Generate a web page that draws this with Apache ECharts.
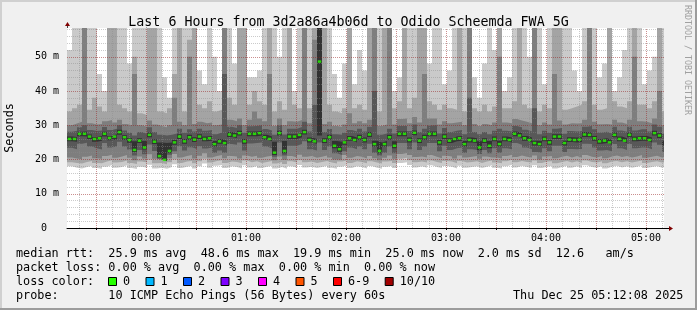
<!DOCTYPE html>
<html><head><meta charset="utf-8">
<script src="https://cdn.jsdelivr.net/npm/echarts@6/dist/echarts.min.js"></script>
<style>html,body{margin:0;padding:0;background:#f0f0f0;overflow:hidden}#c{width:697px;height:310px}</style>
</head><body><div id="c"></div>
<script>
// time in minutes relative to 00:00; each bin = 3 minutes
const startMin = -47.4, stepMin = 3, endMin = 310.8;
const yMax = 58.4;

const median = [
26.0,26.0,27.5,27.5,26.7,26.0,26.2,27.5,26.3,26.7,
28.0,26.5,25.7,22.8,25.5,23.5,27.2,25.2,21.0,19.9,
22.5,25.0,26.7,25.3,26.5,25.8,26.7,26.0,26.2,24.5,
25.3,24.8,27.3,27.0,27.7,25.3,27.5,27.5,27.7,26.5,
26.0,22.0,27.7,22.5,26.7,26.7,27.2,28.0,25.7,25.3,
48.6,25.5,26.5,24.0,23.0,25.0,26.2,25.7,26.5,25.7,
27.3,24.5,22.5,24.5,26.5,24.0,27.5,27.5,25.7,27.8,
25.5,26.5,27.5,27.5,25.0,26.7,25.5,26.0,26.2,24.5,
25.7,25.5,23.5,25.5,24.0,26.0,24.5,26.0,25.7,27.5,
27.0,26.2,25.7,24.8,24.5,26.0,25.0,26.7,26.7,24.8,
25.8,25.7,25.8,27.3,27.2,26.2,25.3,25.5,25.0,27.2,
26.0,25.5,27.2,26.0,26.2,26.2,25.7,27.7,27.0,24.8];

const p1 = [
18.0,17.6,17.4,17.8,18.2,17.5,17.3,17.9,18.4,17.6,
17.8,18.3,17.5,17.2,17.9,17.6,18.5,17.4,17.6,17.3,
17.8,18.6,17.5,17.9,18.2,17.4,18.0,18.8,17.6,18.2,
18.4,17.5,18.0,17.8,17.4,18.3,17.7,18.1,17.5,17.9,
18.2,17.4,17.8,17.3,18.0,17.6,18.4,17.7,17.9,17.5,
17.8,18.2,17.6,17.3,17.9,18.3,17.5,18.0,17.8,17.4,
18.1,17.6,17.3,17.9,18.2,17.5,19.0,19.2,18.4,17.7,
18.0,17.6,18.3,17.8,17.5,18.1,17.9,17.4,18.2,17.6,
17.8,18.0,17.5,17.9,18.3,17.6,17.4,18.0,18.5,17.7,
18.2,17.8,17.6,18.3,17.5,17.9,18.1,17.4,17.8,18.2,
17.6,18.0,17.5,18.3,17.8,17.6,18.1,17.4,17.9,18.2,
17.7,18.0,17.6,17.9,18.3,17.5,17.8,18.1,17.6,18.0];
const p2 = [
19.2,19.0,18.8,19.3,19.6,19.0,18.9,19.4,19.8,19.1,
19.3,19.7,19.0,18.7,19.4,19.1,19.9,18.9,19.0,18.6,
19.2,20.0,19.0,19.4,19.6,18.9,19.5,20.2,19.1,19.6,
19.8,19.0,19.4,19.3,18.9,19.7,19.2,19.5,19.0,19.3,
19.6,18.8,19.3,18.7,19.5,19.1,19.8,19.2,19.4,19.0,
19.3,19.6,19.1,18.8,19.4,19.7,19.0,19.5,19.3,18.9,
19.5,19.1,18.8,19.4,19.6,19.0,20.2,20.5,19.8,19.2,
19.4,19.1,19.7,19.3,19.0,19.6,19.4,18.9,19.6,19.1,
19.3,19.5,19.0,19.4,19.7,19.1,18.9,19.5,19.9,19.2,
19.6,19.3,19.1,19.7,19.0,19.4,19.5,18.9,19.3,19.6,
19.1,19.5,19.0,19.7,19.3,19.1,19.5,18.9,19.4,19.6,
19.2,19.5,19.1,19.4,19.7,19.0,19.3,19.5,19.1,19.4];
const p3 = [
20.6,20.3,20.1,20.8,21.2,20.4,20.2,21.0,21.4,20.5,
20.9,21.3,20.5,19.8,20.9,20.3,21.5,20.2,19.9,19.4,
20.4,21.6,20.6,21.0,21.3,20.3,21.1,21.8,20.6,21.0,
21.3,20.4,21.0,20.9,20.3,21.2,20.8,21.1,20.5,20.9,
21.1,19.8,20.9,19.9,21.0,20.6,21.4,20.8,21.0,20.5,
20.8,21.2,20.6,20.0,19.9,21.3,20.5,21.0,20.8,20.3,
21.0,20.4,19.8,20.5,21.2,20.2,21.6,21.9,21.3,20.7,
20.9,20.6,21.3,20.8,20.4,21.1,20.9,20.3,21.2,20.6,
20.8,21.0,20.2,20.9,20.6,20.6,20.3,21.0,21.4,20.7,
21.2,20.8,20.6,21.2,20.0,20.9,21.0,20.4,20.8,21.1,
20.6,21.0,20.5,21.3,20.8,20.6,21.0,20.4,20.9,21.2,
20.7,21.0,20.6,20.9,21.3,20.5,20.8,21.1,20.6,20.9];
const p4 = [
23.4,23.0,24.6,24.9,23.8,23.3,22.9,24.8,23.5,23.9,
25.2,23.8,22.9,21.2,22.8,21.5,24.4,22.5,20.2,19.6,
21.4,22.4,23.9,22.6,23.6,23.1,23.9,23.2,23.5,22.0,
22.6,22.0,24.5,24.3,25.0,22.6,24.7,24.8,25.0,23.8,
23.3,20.8,25.0,21.2,24.0,24.0,24.5,25.3,23.0,22.6,
25.0,22.8,23.8,21.8,21.3,22.4,23.5,23.0,23.8,23.0,
24.6,22.0,21.2,22.0,23.8,21.8,24.8,24.8,23.0,25.0,
22.8,23.8,24.8,24.8,22.4,24.0,22.8,23.3,23.5,22.0,
23.0,22.8,21.6,22.8,21.8,23.3,22.0,23.3,23.0,24.8,
24.3,23.5,23.0,22.2,22.0,23.3,22.4,24.0,24.0,22.2,
23.1,23.0,23.1,24.6,24.5,23.5,22.6,22.8,22.4,24.5,
23.3,22.8,24.5,23.3,23.5,23.5,23.0,25.0,24.3,22.2];
const p5 = [
25.3,25.2,26.8,26.7,26.0,25.2,25.5,26.7,25.6,25.9,
27.2,25.8,24.9,22.2,24.8,22.9,26.5,24.5,20.5,19.5,
21.9,24.3,26.0,24.6,25.8,25.1,26.0,25.3,25.5,23.8,
24.6,24.1,26.6,26.3,27.0,24.6,26.8,26.8,27.0,25.8,
25.3,21.3,27.0,21.8,26.0,26.0,26.5,27.3,25.0,24.6,
27.0,24.8,25.8,23.3,22.3,24.3,25.5,25.0,25.8,25.0,
26.6,23.8,21.8,23.8,25.8,23.3,26.8,26.8,25.0,27.1,
24.8,25.8,26.8,26.8,24.3,26.0,24.8,25.3,25.5,23.8,
25.0,24.8,22.8,24.8,23.3,25.3,23.8,25.3,25.0,26.8,
26.3,25.5,25.0,24.1,23.8,25.3,24.3,26.0,26.0,24.1,
25.1,25.0,25.1,26.6,26.5,25.5,24.6,24.8,24.3,26.5,
25.3,24.8,26.5,25.3,25.5,25.5,25.0,27.0,26.3,24.1];
const p6 = [
26.7,26.6,28.1,28.2,27.3,26.6,26.9,28.1,26.9,27.4,
28.7,27.1,26.3,25.3,26.2,25.4,27.9,25.9,25.0,24.8,
25.0,25.7,27.4,26.0,27.2,26.5,27.4,26.7,26.9,25.4,
26.0,25.5,28.0,27.7,28.4,26.0,28.2,28.2,28.4,27.2,
26.7,25.2,28.4,25.4,27.4,27.4,27.9,28.7,26.4,26.0,
60.0,26.2,27.2,25.4,25.2,25.7,26.9,26.4,27.2,26.4,
28.0,25.5,25.0,25.4,27.2,25.3,28.2,28.2,26.4,28.5,
26.2,27.2,28.2,28.2,25.7,27.4,26.2,26.7,26.9,25.4,
26.4,26.2,25.3,26.2,25.4,26.7,25.5,26.7,26.4,28.2,
27.7,26.9,26.4,25.5,25.4,26.7,25.7,27.4,27.4,25.5,
26.5,26.4,26.5,28.0,27.9,26.9,26.0,26.2,25.7,27.9,
26.7,26.2,27.9,26.7,26.9,26.9,26.4,28.4,27.7,25.5];
const p7 = [
28.1,28.4,29.4,30.0,28.6,28.3,28.5,29.5,28.6,29.0,
30.0,28.5,27.8,27.0,28.0,27.5,29.4,28.0,27.2,27.0,
27.2,27.6,29.0,27.8,28.8,28.2,29.0,28.4,28.6,27.4,
27.9,45.0,29.6,29.2,30.0,27.8,29.7,29.8,30.0,28.9,
28.5,27.2,30.0,27.3,29.0,29.0,29.5,31.0,28.2,36.0,
60.0,28.0,28.9,27.4,27.2,27.8,28.6,28.2,29.0,28.2,
29.6,40.0,27.2,27.6,29.0,27.6,29.8,29.8,28.3,30.2,
28.0,29.0,29.9,30.0,27.6,29.2,28.0,28.4,28.6,27.4,
38.0,28.0,27.4,28.0,27.4,28.4,29.0,28.4,28.2,29.8,
29.4,28.7,28.2,35.0,27.4,28.4,27.8,29.0,29.2,27.5,
28.3,28.2,28.3,29.6,29.8,28.8,27.9,28.1,27.6,29.6,
28.5,28.1,29.6,28.5,28.8,28.8,28.2,30.2,29.6,27.5];
const p8 = [
30.0,30.5,31.0,60.0,30.6,30.2,30.4,31.2,31.5,30.8,
31.6,30.4,30.0,45.0,30.0,29.6,31.4,30.2,29.8,29.4,
30.0,38.0,31.0,30.0,50.0,30.4,31.0,30.6,30.8,30.0,
30.2,60.0,31.6,31.2,32.0,30.0,31.6,34.0,32.0,31.2,
45.0,29.8,32.0,30.0,31.2,31.0,31.5,60.0,30.6,55.0,
60.0,30.4,31.0,29.8,29.6,30.2,33.5,30.6,31.2,30.6,
31.6,60.0,29.8,30.2,60.0,30.2,31.8,32.0,30.6,32.4,
30.8,45.0,32.0,32.0,30.2,31.2,30.6,30.8,31.0,30.0,
60.0,30.4,29.8,30.4,30.0,30.8,50.0,30.8,30.6,31.8,
31.4,31.0,30.6,60.0,30.0,30.8,30.2,45.0,31.4,30.2,
30.6,30.5,30.6,31.6,60.0,31.0,30.3,30.4,30.2,31.6,
30.8,30.4,31.6,50.0,31.2,31.0,30.6,32.0,40.0,30.0];
const p9 = [
34.0,35.0,36.0,60.0,34.5,38.0,35.5,34.0,60.0,60.0,
36.0,35.0,34.0,50.0,33.5,33.0,60.0,60.0,34.0,33.5,
35.0,45.0,60.0,34.0,55.0,60.0,36.0,35.0,37.0,34.0,
34.5,60.0,38.0,36.0,60.0,60.0,36.0,40.0,37.0,36.0,
60.0,34.0,37.0,34.5,60.0,36.0,35.0,60.0,35.0,60.0,
60.0,60.0,36.0,34.0,33.5,35.0,60.0,35.0,36.0,34.5,
60.0,60.0,34.0,60.0,60.0,35.0,37.0,60.0,35.0,38.0,
60.0,60.0,37.0,36.0,34.5,36.0,35.0,34.5,60.0,34.0,
60.0,35.0,34.0,36.0,34.0,35.5,60.0,35.0,35.0,37.0,
60.0,36.0,35.0,60.0,34.0,36.0,35.0,60.0,60.0,34.5,
35.0,35.5,36.0,37.0,60.0,36.0,34.5,35.0,60.0,37.0,
35.5,35.0,37.0,60.0,36.0,36.0,35.0,37.0,60.0,34.0];
const p10 = [
52,60,60,60,60,60,45,40,60,60,
60,60,48,60,60,60,60,60,60,44,
38,60,60,60,60,60,46,42,60,50,
40,60,60,48,60,60,44,44,46,60,
60,60,50,60,60,40,60,60,60,60,
60,60,60,45,38,48,60,42,52,46,
60,60,60,60,60,40,44,60,60,60,
60,60,48,60,60,42,46,60,60,60,
60,44,38,48,60,52,60,40,44,60,
60,60,50,60,60,42,60,60,60,60,
60,46,40,60,60,60,44,48,60,40,
44,52,60,60,60,42,46,50,60,60];

const hourTicks = [0, 60, 120, 180, 240, 300];
const halfHourTicks = [-30, 0, 30, 60, 90, 120, 150, 180, 210, 240, 270, 300];
const yTicks = [0, 10, 20, 30, 40, 50];
const lossLabels = ['0', '1', '2', '3', '4', '5', '6-9', '10/10'];
const lossColors = ['#26ff00', '#00b8ff', '#0059ff', '#7e00ff', '#ff00ff', '#ff5500', '#ff0000', '#a10000'];
const titleText = 'Last 6 Hours from 3d2a86a4b06d to Odido Scheemda FWA 5G';
const legendLines = [
  'median rtt:  25.9 ms avg  48.6 ms max  19.9 ms min  25.0 ms now  2.0 ms sd  12.6   am/s',
  'packet loss: 0.00 % avg  0.00 % max  0.00 % min  0.00 % now',
  'loss color:',
  'probe:       10 ICMP Echo Pings (56 Bytes) every 60s'
];
const dateText = 'Thu Dec 25 05:12:08 2025';
const MONO = '"DejaVu Sans Mono", monospace';

function stepData(arr) {
  const d = arr.map((v, i) => [startMin + i * stepMin, v]);
  d.push([startMin + arr.length * stepMin, arr[arr.length - 1]]);
  return d;
}
const layers = [
  [p10, '#cacaca'], [p9, '#a4a4a4'], [p8, '#7e7e7e'], [p7, '#585858'], [p6, '#323232'],
  [p5, '#585858'], [p4, '#7e7e7e'], [p3, '#a4a4a4'], [p2, '#cacaca'], [p1, '#ffffff']
];
const series = layers.map(([arr, col]) => ({
  type: 'line', step: 'end', data: stepData(arr), symbol: 'none', silent: true,
  lineStyle: { width: 0, opacity: 0 }, areaStyle: { color: col, opacity: 1, origin: 'start' },
  z: 2, animation: false
}));

// grid lines (drawn above smoke, as rrdtool does)
const gridLines = [];
const minorStyle = { color: 'rgba(140,140,140,0.45)', type: [1, 1], width: 1 };
const majorStyle = { color: 'rgba(150,30,30,0.5)', type: [1, 1], width: 1 };
for (let v = 2; v < yMax; v += 2) {
  if (v % 10 === 0) continue;
  gridLines.push({ yAxis: v, lineStyle: minorStyle });
}
for (let v = 10; v <= 50; v += 10) gridLines.push({ yAxis: v, lineStyle: majorStyle });
for (let m = -40; m <= 310; m += 10) {
  if (m % 30 === 0) continue;
  gridLines.push({ xAxis: m, lineStyle: minorStyle });
}
halfHourTicks.forEach(m => gridLines.push({ xAxis: m, lineStyle: majorStyle }));

series.push({
  type: 'line', data: [[startMin, 0]], symbol: 'none', silent: true,
  lineStyle: { opacity: 0 }, z: 5, animation: false,
  markLine: { silent: true, symbol: 'none', label: { show: false }, animation: false, data: gridLines }
});
series.push({
  type: 'scatter', data: median.map((v, i) => [startMin + i * stepMin + stepMin / 2, v]),
  symbol: 'rect', symbolSize: [3.5, 2.5], itemStyle: { color: lossColors[0] }, silent: true, z: 6, animation: false
});

const chart = echarts.init(document.getElementById('c'), null, { renderer: 'canvas' });
chart.setOption({
  animation: false,
  backgroundColor: '#f0f0f0',
  title: {
    text: titleText, left: 'center', top: 11,
    textStyle: { fontFamily: MONO, fontSize: 13.3, fontWeight: 'normal', color: '#000' }
  },
  grid: { left: 67, top: 28, width: 597, height: 200, show: true, backgroundColor: '#ffffff', borderWidth: 0 },
  xAxis: {
    type: 'value', min: startMin, max: endMin,
    axisLine: { show: true, lineStyle: { color: '#000', width: 1 } },
    axisTick: { show: true, customValues: halfHourTicks, length: 2, lineStyle: { color: '#000' } },
    axisLabel: {
      customValues: hourTicks, margin: 5, fontFamily: MONO, fontSize: 10, color: '#000',
      formatter: v => String(Math.floor(v / 60)).padStart(2, '0') + ':00'
    },
    splitLine: { show: false }
  },
  yAxis: {
    type: 'value', min: 0, max: yMax,
    axisLine: { show: true, lineStyle: { color: '#444', width: 1 } },
    axisTick: { show: true, customValues: yTicks, length: 2, lineStyle: { color: '#444' } },
    axisLabel: {
      customValues: yTicks, margin: 8, fontFamily: MONO, fontSize: 10, color: '#000',
      formatter: v => v === 0 ? '0  ' : v + ' m'
    },
    splitLine: { show: false }
  },
  series: series
});

// decorations
const pX = chart.convertToPixel({ gridIndex: 0 }, [endMin, 0]);
const pY = chart.convertToPixel({ gridIndex: 0 }, [startMin, yMax]);
const g = [];
g.push({ type: 'rect', shape: { x: 0, y: 0, width: 697, height: 2 }, style: { fill: '#d0d0d0' }, silent: true });
g.push({ type: 'rect', shape: { x: 0, y: 0, width: 2, height: 310 }, style: { fill: '#d0d0d0' }, silent: true });
g.push({ type: 'rect', shape: { x: 0, y: 308, width: 697, height: 2 }, style: { fill: '#9c9c9c' }, silent: true });
g.push({ type: 'rect', shape: { x: 695, y: 0, width: 2, height: 310 }, style: { fill: '#9c9c9c' }, silent: true });
g.push({ type: 'line', shape: { x1: pX[0], y1: pX[1] + 0.5, x2: pX[0] + 5, y2: pX[1] + 0.5 }, style: { stroke: '#000', lineWidth: 1 }, silent: true, z: 50 });
g.push({ type: 'polygon', shape: { points: [[pX[0] + 5, pX[1] - 2], [pX[0] + 5, pX[1] + 3], [pX[0] + 9, pX[1] + 0.5]] }, style: { fill: '#7f0000' }, silent: true, z: 50 });
g.push({ type: 'line', shape: { x1: pY[0] + 0.5, y1: pY[1], x2: pY[0] + 0.5, y2: pY[1] - 2 }, style: { stroke: '#444', lineWidth: 1 }, silent: true, z: 50 });
g.push({ type: 'polygon', shape: { points: [[pY[0] - 2, pY[1] - 2], [pY[0] + 3, pY[1] - 2], [pY[0] + 0.5, pY[1] - 6]] }, style: { fill: '#7f0000' }, silent: true, z: 50 });
// texts
g.push({ type: 'text', x: 10, y: 128, rotation: Math.PI / 2, style: { text: 'Seconds', font: '11.8px ' + MONO, fill: '#000', align: 'center', verticalAlign: 'middle' }, silent: true });
g.push({ type: 'text', x: 687.5, y: 60, rotation: -Math.PI / 2, style: { text: 'RRDTOOL / TOBI OETIKER', font: '8.3px ' + MONO, fill: '#a0a0a0', align: 'center', verticalAlign: 'middle' }, silent: true });
const rowsY = [254, 268, 281.7, 296];
legendLines.forEach((t, i) => {
  g.push({ type: 'text', x: 16, y: rowsY[i], style: { text: t, font: '11.8px ' + MONO, fill: '#000', align: 'left', verticalAlign: 'middle' }, silent: true });
});
g.push({ type: 'text', x: 513, y: rowsY[3], style: { text: dateText, font: '11.8px ' + MONO, fill: '#000', align: 'left', verticalAlign: 'middle' }, silent: true });
let bx = 108;
lossLabels.forEach((lab, i) => {
  g.push({ type: 'rect', shape: { x: bx + 0.5, y: 277.5, width: 8, height: 8 }, style: { fill: lossColors[i], stroke: '#000', lineWidth: 1 }, silent: true });
  g.push({ type: 'text', x: bx + 15, y: rowsY[2], style: { text: lab, font: '11.8px ' + MONO, fill: '#000', align: 'left', verticalAlign: 'middle' }, silent: true });
  bx += 15 + lab.length * 7.1 + 15.4;
});
chart.setOption({ graphic: g });
</script>
</body></html>
